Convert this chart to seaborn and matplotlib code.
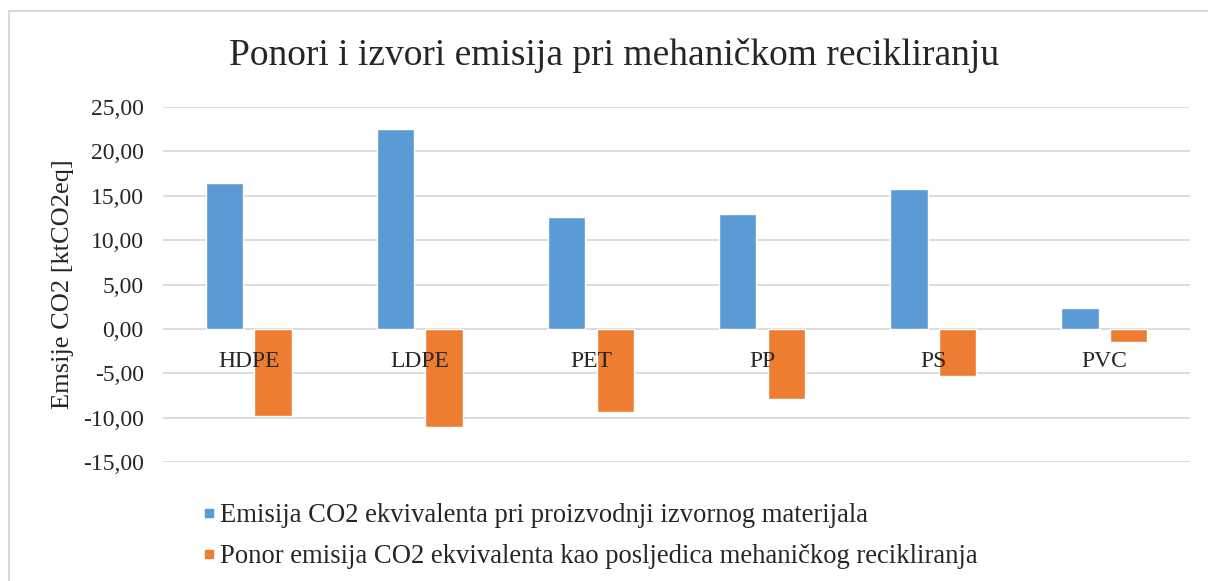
import pandas as pd
import matplotlib
matplotlib.use('Agg')
import matplotlib.pyplot as plt
import seaborn as sns
from matplotlib.ticker import FuncFormatter, MultipleLocator
from matplotlib.lines import Line2D

# podaci ocitani s grafa
materijali = ['HDPE', 'LDPE', 'PET', 'PP', 'PS', 'PVC']
emisija = [16.48, 22.55, 12.57, 12.96, 15.72, 2.37]
ponor = [-9.85, -11.10, -9.42, -7.92, -5.33, -1.47]
serije = ['Emisija CO2 ekvivalenta pri proizvodnji izvornog materijala',
          'Ponor emisija CO2 ekvivalenta kao posljedica mehaničkog recikliranja']
boje = ['#5B9BD5', '#ED7D31']

df = pd.DataFrame({
    'Materijal': materijali * 2,
    'Vrijednost': emisija + ponor,
    'Serija': [serije[0]] * len(materijali) + [serije[1]] * len(materijali),
})

sns.set_style('white')
plt.rcParams['font.family'] = ['Liberation Serif', 'DejaVu Serif']

fig = plt.figure(figsize=(12.08, 5.81), dpi=100)
ax = fig.add_axes([0.135, 0.2048, 0.850, 0.611])

sns.barplot(data=df, x='Materijal', y='Vrijednost', hue='Serija',
            palette=boje, width=0.567, gap=0.233, saturation=1,
            ax=ax, legend=False)

ax.set_ylim(-15, 25)
ax.set_xlim(-0.5, len(materijali) - 0.5)
ax.yaxis.set_major_locator(MultipleLocator(5))
ax.yaxis.set_major_formatter(FuncFormatter(lambda v, p: f'{v:.2f}'.replace('.', ',')))
ax.grid(axis='y', color='#D9D9D9', linewidth=1.3)
ax.set_axisbelow(True)
ax.xaxis.set_zorder(5)  # nazivi kategorija iznad stupaca
for s in ax.spines.values():
    s.set_visible(False)
ax.spines['bottom'].set_position(('data', 0))
ax.tick_params(axis='y', length=0, pad=14, labelsize=17)
ax.tick_params(axis='x', length=0, pad=16, labelsize=17)
ax.set_xlabel('')
ax.set_ylabel('Emsije CO2 [ktCO2eq]', fontsize=19, labelpad=6)

fig.suptitle('Ponori i izvori emisija pri mehaničkom recikliranju',
             fontsize=27, x=0.508, y=0.935)

handles = [Line2D([], [], marker='s', linestyle='none', markersize=6,
                  markerfacecolor=c, markeredgecolor=c) for c in boje]
fig.legend(handles, serije, loc='upper left', bbox_to_anchor=(0.152, 0.166),
           frameon=False, fontsize=19.2, handletextpad=0.15, labelspacing=0.6,
           handlelength=0.5, borderpad=0.2)

# rub grafikona
fig.add_artist(Line2D([9 / 1208, 1.0], [1 - 11 / 581, 1 - 11 / 581],
                      color='#D9D9D9', linewidth=1.5, transform=fig.transFigure))
fig.add_artist(Line2D([9 / 1208, 9 / 1208], [0, 1 - 11 / 581],
                      color='#D9D9D9', linewidth=1.5, transform=fig.transFigure))

fig.savefig('out.png', dpi=100)
